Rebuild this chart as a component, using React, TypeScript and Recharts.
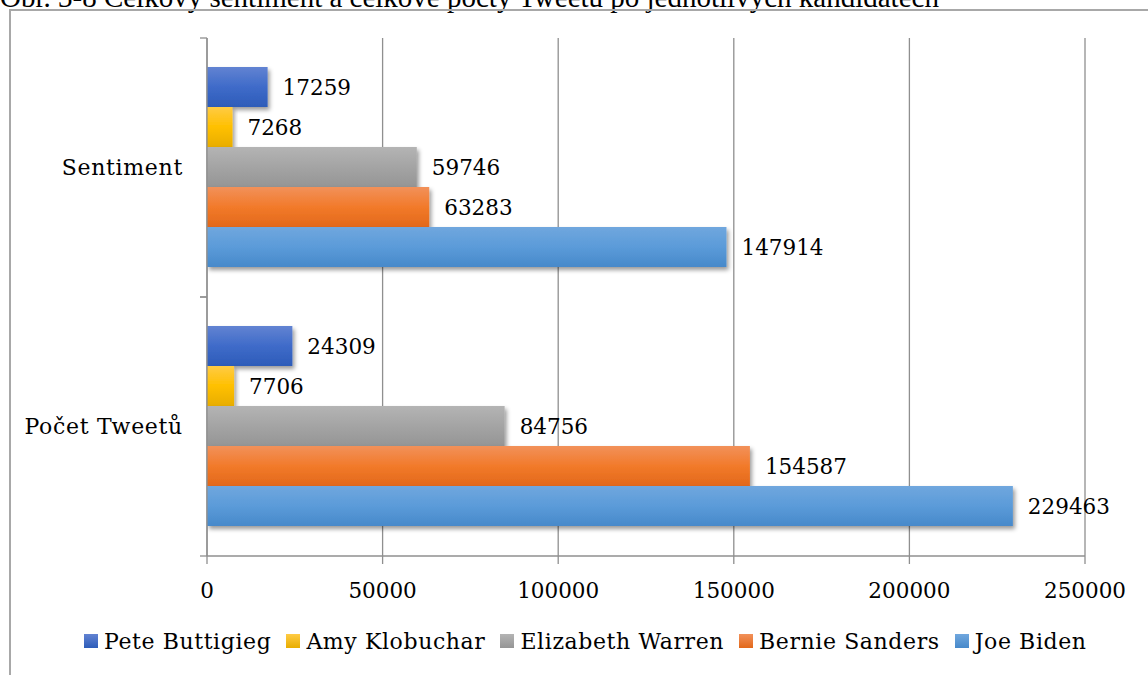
import React from 'react';
import { BarChart, Bar, XAxis, YAxis, CartesianGrid, Legend, LabelList } from 'recharts';

// values
const categories = ['Sentiment', 'Počet Tweetů'];
const candidates = ['Pete Buttigieg', 'Amy Klobuchar', 'Elizabeth Warren', 'Bernie Sanders', 'Joe Biden'];
const seriesKeys = ['buttigieg', 'klobuchar', 'warren', 'sanders', 'biden'];
const buttigieg = [17259, 24309];
const klobuchar = [7268, 7706];
const warren = [59746, 84756];
const sanders = [63283, 154587];
const biden = [147914, 229463];
const xTicks = [0, 50000, 100000, 150000, 200000, 250000];

const seriesValues = [buttigieg, klobuchar, warren, sanders, biden];

// gradient stops per series: top, middle, bottom
const palette = [
    ['#6283d2', '#3f6bc9', '#2d5cb9'],
    ['#ffcb45', '#ffc000', '#e8ad00'],
    ['#b4b4b4', '#a4a4a4', '#959595'],
    ['#f2915a', '#f27a2a', '#e2681a'],
    ['#70a7de', '#5b9bd9', '#4789ca'],
];
const swatch = ['#3f6bc9', '#ffc000', '#a4a4a4', '#f27a2a', '#5b9bd9'];

const data = categories.map((category, i) => {
    const row: Record<string, string | number> = { category };
    seriesKeys.forEach((k, s) => {
        row[k] = seriesValues[s][i];
    });
    return row;
});

const FONT = '"DejaVu Serif", Georgia, serif';
const AXIS = '#8f8f8f';

const CategoryTick = (props: any) => {
    const { x, y, payload } = props;
    const half = payload.offset ?? 0;
    return (
        <g>
            <text
                x={x - 17}
                y={y}
                textAnchor="end"
                dominantBaseline="central"
                fontFamily={FONT}
                fontSize={22}
                letterSpacing={0.7}
                fill="#000"
            >
                {payload.value}
            </text>
            <line x1={x} x2={x + 7} y1={y - half} y2={y - half} stroke={AXIS} strokeWidth={1.3} />
            <line x1={x} x2={x + 7} y1={y + half} y2={y + half} stroke={AXIS} strokeWidth={1.3} />
        </g>
    );
};

const LegendContent = () => (
    <div
        style={{
            display: 'flex',
            justifyContent: 'flex-start',
            alignItems: 'center',
            paddingLeft: 84,
            fontFamily: FONT,
            fontSize: 22,
            letterSpacing: 0.6,
            color: '#000',
            height: 34,
        }}
    >
        {candidates.map((name, i) => (
            <div key={name} style={{ display: 'flex', alignItems: 'center', marginRight: 15 }}>
                <span
                    style={{
                        display: 'inline-block',
                        width: 14,
                        height: 14,
                        marginRight: 6,
                        background: `linear-gradient(${palette[i][0]}, ${palette[i][2]})`,
                    }}
                />
                <span>{name}</span>
            </div>
        ))}
    </div>
);

export default function App() {
    return (
        <div style={{ position: 'fixed', left: 0, top: 0, width: 1148, height: 675, background: '#fff', overflow: 'hidden' }}>
            <div
                style={{
                    position: 'absolute',
                    left: 0,
                    top: -17,
                    fontFamily: '"Liberation Serif", "Times New Roman", serif',
                    fontSize: 29,
                    lineHeight: '29px',
                    whiteSpace: 'nowrap',
                    color: '#000',
                }}
            >
                Obr. 3-8 Celkový sentiment a celkové počty Tweetů po jednotlivých kandidátech
            </div>
            <div
                style={{
                    position: 'absolute',
                    left: 9,
                    top: 9,
                    width: 1200,
                    height: 700,
                    borderTop: '2px solid #a8a8a8',
                    borderLeft: '2px solid #a8a8a8',
                }}
            />
            <div style={{ position: 'absolute', left: 0, top: 0 }}>
                <BarChart
                    width={1148}
                    height={675}
                    data={data}
                    layout="vertical"
                    margin={{ top: 38, right: 63, left: 0, bottom: 45 }}
                    barCategoryGap={29}
                    barGap={0}
                >
                    <defs>
                        {palette.map((p, i) => (
                            <linearGradient key={i} id={`grad${i}`} x1="0" y1="0" x2="0" y2="1">
                                <stop offset="0%" stopColor={p[0]} />
                                <stop offset="50%" stopColor={p[1]} />
                                <stop offset="100%" stopColor={p[2]} />
                            </linearGradient>
                        ))}
                        <filter id="barShadow" x="-10%" y="-20%" width="130%" height="160%">
                            <feDropShadow dx={2} dy={3} stdDeviation={2.2} floodColor="#000" floodOpacity={0.4} />
                        </filter>
                    </defs>
                    <CartesianGrid horizontal={false} stroke={AXIS} strokeWidth={1.3} />
                    <XAxis
                        type="number"
                        domain={[0, 250000]}
                        ticks={xTicks}
                        allowDataOverflow
                        height={40}
                        tickSize={8}
                        tickMargin={19}
                        stroke={AXIS}
                        strokeWidth={1.3}
                        tick={{ fontFamily: FONT, fontSize: 21.5, fill: '#000' }}
                    />
                    <YAxis
                        type="category"
                        dataKey="category"
                        width={207}
                        tickSize={7}
                        tickMargin={0}
                        tickLine={false}
                        stroke={AXIS}
                        strokeWidth={1.3}
                        tick={<CategoryTick />}
                    />
                    <Legend
                        verticalAlign="bottom"
                        content={<LegendContent />}
                        wrapperStyle={{ top: 624, bottom: 'auto', left: 0, width: 1148 }}
                    />
                    {seriesKeys.map((k, i) => (
                        <Bar
                            key={k}
                            dataKey={k}
                            name={candidates[i]}
                            fill={`url(#grad${i})`}
                            color={swatch[i]}
                            filter="url(#barShadow)"
                            isAnimationActive={false}
                        >
                            <LabelList dataKey={k} position="right" offset={15} fill="#000" fontFamily={FONT} fontSize={21.5} />
                        </Bar>
                    ))}
                </BarChart>
            </div>
        </div>
    );
}
